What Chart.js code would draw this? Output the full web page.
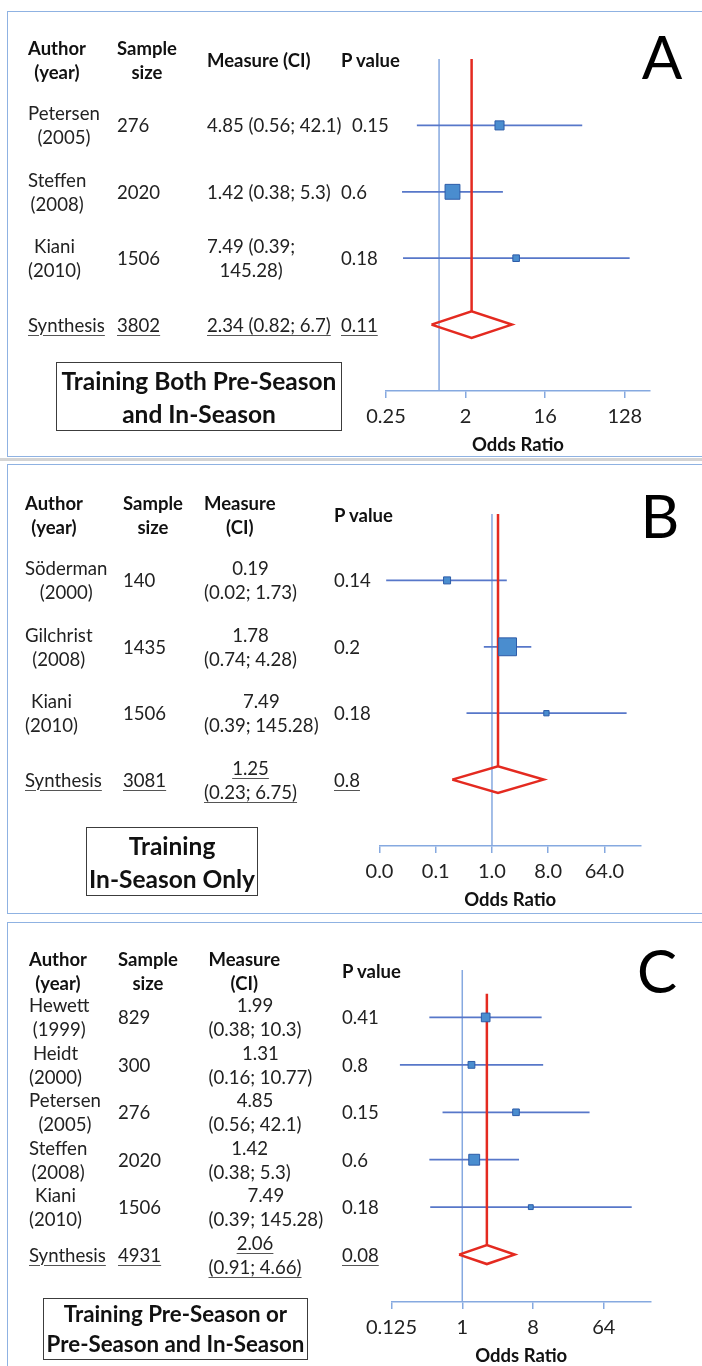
<!DOCTYPE html>
<html>
<head>
<meta charset="utf-8">
<title>Forest plots - injury prevention training</title>
<script src="https://cdn.jsdelivr.net/npm/chart.js@4.4.1/dist/chart.umd.min.js"></script>
<style>
  body { margin: 0; background: #fff; }
  #page { position: relative; width: 702px; height: 1366px; overflow: hidden; font-family: Lato, "Open Sans", sans-serif; color: #222; }
  .panel { position: absolute; left: 7px; width: 730px; border: 1.5px solid #8fb2e2; box-sizing: border-box; }
  .sep { position: absolute; left: 0; width: 702px; height: 3px; background: #d4d4d4; }
  canvas { position: absolute; left: 0; }
  .t { position: absolute; white-space: nowrap; text-align: center; font-size: 18.6px; line-height: 24px; transform: translateY(-50%); }
  .h { font-weight: bold; font-size: 18.5px; color: #111; }
  .u { text-decoration: underline; text-decoration-thickness: 1px; text-underline-offset: 3px; text-decoration-color: #555; }
  .box { position: absolute; border: 1.5px solid #3c3c3c; box-sizing: border-box; display: flex; align-items: center; justify-content: center; text-align: center; font-weight: bold; color: #111; white-space: nowrap; }
  .letter { position: absolute; font-size: 60px; line-height: 60px; transform: translate(-50%, -50%); color: #000; }
</style>
</head>
<body>
<div id="page"></div>
<script>
// ---- A: training both pre-season and in-season
const authorsA = ['Petersen', 'Steffen', 'Kiani'];
const yearsA = [2005, 2008, 2010];
const samplesA = [276, 2020, 1506];
const oddsA = [4.85, 1.42, 7.49];
const lowA = [0.56, 0.38, 0.39];
const highA = [42.1, 5.3, 145.28];
const pvalA = ['0.15', '0.6', '0.18'];
const synthA = { n: 3802, or: 2.34, lo: 0.82, hi: 6.7, p: '0.11' };
const tickValsA = [0.25, 2, 16, 128];
const tickLabelsA = ['0.25', '2', '16', '128'];

// ---- B: training in-season only
const authorsB = ['Söderman', 'Gilchrist', 'Kiani'];
const yearsB = [2000, 2008, 2010];
const samplesB = [140, 1435, 1506];
const oddsB = [0.19, 1.78, 7.49];
const lowB = [0.02, 0.74, 0.39];
const highB = [1.73, 4.28, 145.28];
const pvalB = ['0.14', '0.2', '0.18'];
const synthB = { n: 3081, or: 1.25, lo: 0.23, hi: 6.75, p: '0.8' };
const tickValsB = [1 / 64, 1 / 8, 1, 8, 64];
const tickLabelsB = ['0.0', '0.1', '1.0', '8.0', '64.0'];

// ---- C: pre-season or pre-season and in-season
const authorsC = ['Hewett', 'Heidt', 'Petersen', 'Steffen', 'Kiani'];
const yearsC = [1999, 2000, 2005, 2008, 2010];
const samplesC = [829, 300, 276, 2020, 1506];
const oddsC = [1.99, 1.31, 4.85, 1.42, 7.49];
const lowC = [0.38, 0.16, 0.56, 0.38, 0.39];
const highC = [10.3, 10.77, 42.1, 5.3, 145.28];
const pvalC = ['0.41', '0.8', '0.15', '0.6', '0.18'];
const synthC = { n: 4931, or: 2.06, lo: 0.91, hi: 4.66, p: '0.08' };
const tickValsC = [0.125, 1, 8, 64];
const tickLabelsC = ['0.125', '1', '8', '64'];

const RED = '#e42a20';
const CI_BLUE = '#5777c9';
const AXIS_BLUE = '#86a9e0';
const AXIS_H = 65;

const page = document.getElementById('page');

const panels = [
  {
    letter: 'A', letterPos: [662, 56], frame: [11, 446],
    authors: authorsA, years: yearsA, samples: samplesA, odds: oddsA, low: lowA, high: highA, pvals: pvalA, synth: synthA,
    tickVals: tickValsA, tickLabels: tickLabelsA,
    plotTop: 59, axisY: 391, plotLeft: 386, plotRight: 650, xRange: [-2, 7.95], redFrom: -1, boxK: 10,
    cols: [28, 117, 207, 341], heads: ['Author<br>(year)', 'Sample<br>size', 'Measure (CI)', 'P value'],
    wrap: 'long',
    box: { left: 56, top: 362, w: 286, h: 69, size: 24.5, lh: 33, lines: ['Training Both Pre-Season', 'and In-Season'] }
  },
  {
    letter: 'B', letterPos: [660, 515], frame: [464, 450],
    authors: authorsB, years: yearsB, samples: samplesB, odds: oddsB, low: lowB, high: highB, pvals: pvalB, synth: synthB,
    tickVals: tickValsB, tickLabels: tickLabelsB,
    plotTop: 514, axisY: 846, plotLeft: 379.5, plotRight: 641, xRange: [-6, 7.95], redFrom: -1, boxK: 8,
    cols: [25, 123, 204, 334], heads: ['Author<br>(year)', 'Sample<br>size', 'Measure<br>(CI)', 'P value'],
    wrap: 'always',
    box: { left: 86, top: 827, w: 172, h: 69, size: 24.5, lh: 33, lines: ['Training', 'In-Season Only'] }
  },
  {
    letter: 'C', letterPos: [657, 970], frame: [922, 470],
    authors: authorsC, years: yearsC, samples: samplesC, odds: oddsC, low: lowC, high: highC, pvals: pvalC, synth: synthC,
    tickVals: tickValsC, tickLabels: tickLabelsC,
    plotTop: 970, axisY: 1302, plotLeft: 391.5, plotRight: 651, xRange: [-3, 8], redFrom: -0.5, boxK: 7.3,
    cols: [29, 118, 208.5, 342], heads: ['Author<br>(year)', 'Sample<br>size', 'Measure<br>(CI)', 'P value'],
    wrap: 'always',
    box: { left: 43, top: 1298, w: 265, h: 62, size: 22.3, lh: 30, lines: ['Training Pre-Season or', 'Pre-Season and In-Season'] }
  }
];

function put(html, x, y, cls) {
  const d = document.createElement('div');
  d.className = 't ' + (cls || '');
  d.innerHTML = html;
  d.style.left = x + 'px';
  d.style.top = y + 'px';
  page.appendChild(d);
  return d;
}

function measureText(or, lo, hi, wrap) {
  const one = or + ' (' + lo + '; ' + hi + ')';
  if (wrap === 'always') return or + '<br>(' + lo + '; ' + hi + ')';
  if (one.length > 18) return or + ' (' + lo + ';<br>' + hi + ')';
  return one;
}

function drawTable(p) {
  const n = p.odds.length;
  const rowH = (p.axisY - p.plotTop) / (n + 2);
  const rowY = i => p.plotTop + (i + 1) * rowH;

  p.heads.forEach((h, k) => put(h, p.cols[k], p.plotTop + 0.5, 'h'));

  for (let i = 0; i <= n; i++) {
    const syn = i === n;
    const u = syn ? 'u' : '';
    const y = rowY(i);
    put(syn ? 'Synthesis' : p.authors[i] + '<br>(' + p.years[i] + ')', p.cols[0], y, u);
    put(String(syn ? p.synth.n : p.samples[i]), p.cols[1], y, u);
    const m = syn ? measureText(p.synth.or, p.synth.lo, p.synth.hi, p.wrap)
                  : measureText(p.odds[i], p.low[i], p.high[i], p.wrap);
    const md = put(m, p.cols[2], y, u);
    const px = Math.max(p.cols[3], p.cols[2] + md.offsetWidth + 10);
    put(syn ? p.synth.p : p.pvals[i], px, y, u);
  }

  const b = document.createElement('div');
  b.className = 'box';
  Object.assign(b.style, {
    left: p.box.left + 'px', top: p.box.top + 'px', width: p.box.w + 'px', height: p.box.h + 'px',
    fontSize: p.box.size + 'px', lineHeight: p.box.lh + 'px'
  });
  b.innerHTML = '<div>' + p.box.lines.join('<br>') + '</div>';
  page.appendChild(b);

  const l = document.createElement('div');
  l.className = 'letter';
  l.textContent = p.letter;
  l.style.left = p.letterPos[0] + 'px';
  l.style.top = p.letterPos[1] + 'px';
  page.appendChild(l);
}

function drawForest(p) {
  const n = p.odds.length;
  const cv = document.createElement('canvas');
  cv.width = 702;
  cv.height = Math.round(p.axisY - p.plotTop + AXIS_H);
  cv.style.top = p.plotTop + 'px';
  page.appendChild(cv);

  const lx = v => Math.log2(v);
  // box side ~ 1/SE (inverse-variance weight), SE from 95% CI on log scale
  const se = p.low.map((lo, i) => (Math.log(p.high[i]) - Math.log(lo)) / 3.92);
  const s = p.synth;

  const ciSets = p.odds.map((_, i) => ({
    data: [{ x: lx(p.low[i]), y: i }, { x: lx(p.high[i]), y: i }],
    showLine: true, borderColor: CI_BLUE, borderWidth: 1.8, pointRadius: 0, clip: false
  }));

  new Chart(cv, {
    type: 'scatter',
    data: {
      datasets: [
        {
          data: p.odds.map((v, i) => ({ x: lx(v), y: i })),
          pointStyle: 'rect',
          pointRadius: se.map(e => p.boxK / e / Math.SQRT2),
          backgroundColor: '#4a8dcf', borderColor: '#2d5ca8', borderWidth: 1, clip: false
        },
        {
          data: [{ x: lx(s.or), y: p.redFrom }, { x: lx(s.or), y: n - 0.2 }],
          showLine: true, borderColor: RED, borderWidth: 2.5, pointRadius: 0, clip: false
        },
        {
          data: [
            { x: lx(s.lo), y: n }, { x: lx(s.or), y: n - 0.2 }, { x: lx(s.hi), y: n },
            { x: lx(s.or), y: n + 0.2 }, { x: lx(s.lo), y: n }
          ],
          showLine: true, borderColor: RED, borderWidth: 2.5, pointRadius: 0, clip: false, borderJoinStyle: 'miter'
        },
        ...ciSets,
        {
          data: [{ x: 0, y: -1 }, { x: 0, y: n + 1 }],
          showLine: true, borderColor: AXIS_BLUE, borderWidth: 1.5, pointRadius: 0, clip: false
        }
      ]
    },
    options: {
      responsive: false,
      animation: false,
      devicePixelRatio: 1,
      events: [],
      layout: { autoPadding: false, padding: { left: p.plotLeft, right: 702 - p.plotRight, top: 0, bottom: 0 } },
      plugins: { legend: { display: false }, tooltip: { enabled: false } },
      scales: {
        x: {
          type: 'linear',
          min: p.xRange[0],
          max: p.xRange[1],
          afterBuildTicks: sc => { sc.ticks = p.tickVals.map(v => ({ value: lx(v) })); },
          afterFit: sc => { sc.height = AXIS_H; },
          ticks: {
            autoSkip: false, maxRotation: 0, padding: 7, color: '#222',
            font: { family: 'Lato', size: 20 },
            callback: (v, i) => p.tickLabels[i]
          },
          grid: { drawOnChartArea: false, drawTicks: true, tickLength: 7, color: AXIS_BLUE, lineWidth: 1.5 },
          border: { display: true, color: AXIS_BLUE, width: 1.5 },
          title: {
            display: true, text: 'Odds Ratio', color: '#111', padding: 0,
            font: { family: 'Lato', size: 18.5, weight: 'bold' }
          }
        },
        y: { type: 'linear', display: false, reverse: true, min: -1, max: n + 1 }
      }
    }
  });
}

panels.forEach(p => {
  const f = document.createElement('div');
  f.className = 'panel';
  f.style.top = p.frame[0] + 'px';
  f.style.height = p.frame[1] + 'px';
  page.appendChild(f);
});
const sep = document.createElement('div');
sep.className = 'sep';
sep.style.top = '458px';
page.appendChild(sep);

panels.forEach(p => { drawForest(p); drawTable(p); });
</script>
</body>
</html>
